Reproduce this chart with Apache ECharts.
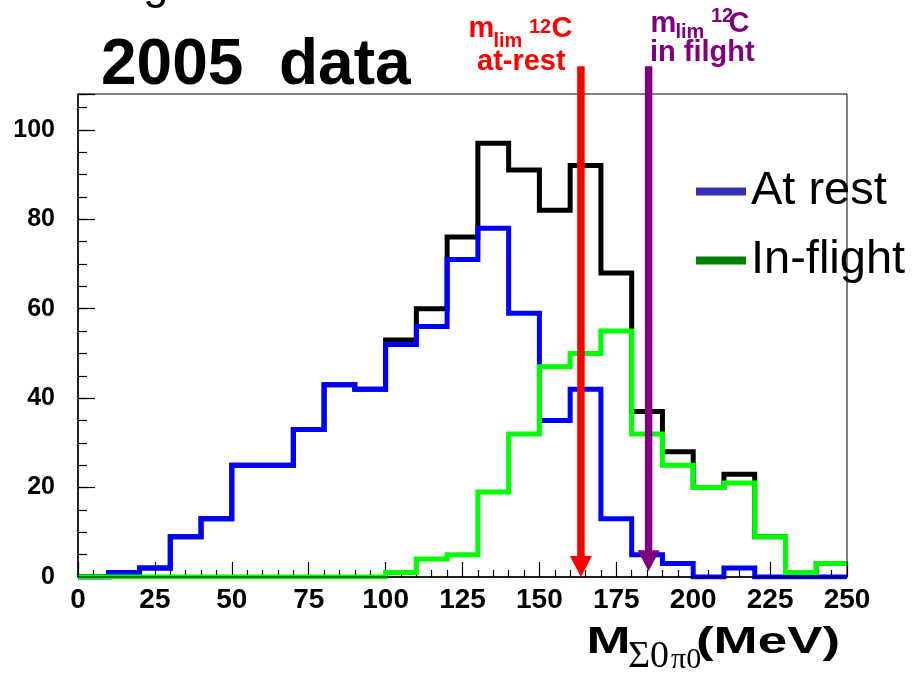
<!DOCTYPE html>
<html>
<head>
<meta charset="utf-8">
<script src="https://cdn.jsdelivr.net/npm/echarts@6/dist/echarts.min.js"></script>
<style>
  html, body { margin: 0; padding: 0; background: #ffffff; }
  #chart { width: 913px; height: 675px; }
</style>
</head>
<body>
<div id="chart"></div>
<script>
// Lower edges of the 10 MeV mass bins
const binEdges = [0, 10, 20, 30, 40, 50, 60, 70, 80, 90, 100, 110, 120,
                  130, 140, 150, 160, 170, 180, 190, 200, 210, 220, 230, 240];
const binUpper = 250;

// Counts per bin
const atRest   = [0, 1, 2, 9, 13, 25, 25, 33, 43, 42, 52, 56, 71,
                  78, 59, 35, 42, 13, 5, 3, 0, 2, 0, 0, 0];
const inFlight = [0, 0, 0, 0, 0, 0, 0, 0, 0, 0, 1, 4, 5,
                  19, 32, 47, 50, 55, 32, 25, 20, 21, 9, 1, 3];
const total    = [0, 1, 2, 9, 13, 25, 25, 33, 43, 42, 53, 60, 76,
                  97, 91, 82, 92, 68, 37, 28, 20, 23, 9, 1, 3];

// Kinematic limits for 12C (MeV), arrow tip and tail heights (counts)
const limitMass = [163.5, 185.5];
const limitTip  = [0, 1.3];
const limitTail = [114.2, 114.2];

// Axis ticks
const xTicks = [0, 25, 50, 75, 100, 125, 150, 175, 200, 225, 250];
const yTicks = [0, 20, 40, 60, 80, 100];

const SANS = "'Liberation Sans', Arial, Helvetica, sans-serif";
const SERIF = "'Liberation Serif', 'Times New Roman', serif";

// Histogram outline: one point per bin edge, closed at the upper edge
function steps(counts) {
  const pts = binEdges.map((x, i) => [x, counts[i]]);
  pts.push([binUpper, counts[counts.length - 1]]);
  return pts;
}

function histSeries(name, counts, color, z) {
  return {
    name: name,
    type: 'line',
    step: 'end',
    data: steps(counts),
    showSymbol: false,
    symbol: 'none',
    silent: true,
    z: z,
    itemStyle: { color: color },
    lineStyle: { color: color, width: 5, join: 'miter', cap: 'butt' }
  };
}

const arrowColors = ['#ff0000', '#800080'];

function renderArrow(params, api) {
  const tip = api.coord([api.value(0), api.value(1)]);
  const tail = api.coord([api.value(0), api.value(2)]);
  const color = arrowColors[params.dataIndex];
  const headH = 21, headW = 22, shaft = 7.5;
  return {
    type: 'group',
    children: [
      {
        type: 'rect',
        shape: { x: tip[0] - shaft / 2, y: tail[1], width: shaft, height: tip[1] - headH - tail[1] + 1 },
        style: { fill: color }
      },
      {
        type: 'polygon',
        shape: { points: [[tip[0] - headW / 2, tip[1] - headH], [tip[0] + headW / 2, tip[1] - headH], [tip[0], tip[1]]] },
        style: { fill: color }
      }
    ]
  };
}

function txt(text, x, y, font, fill, extra) {
  return Object.assign({
    type: 'text',
    x: x, y: y,
    silent: true,
    style: { text: text, x: 0, y: 0, font: font, fill: fill, align: 'left', verticalAlign: 'top' }
  }, extra || {});
}

const chart = echarts.init(document.getElementById('chart'), null, { renderer: 'canvas' });

chart.setOption({
  animation: false,
  backgroundColor: '#ffffff',
  grid: {
    left: 78, right: 66, top: 94, bottom: 98,
    show: true, borderColor: '#000000', borderWidth: 1,
    backgroundColor: 'transparent', z: 6
  },
  legend: {
    data: [
      { name: 'At rest', itemStyle: { color: '#3030b8' } },
      { name: 'In-flight', itemStyle: { color: '#008000' } }
    ],
    orient: 'vertical',
    left: 696, top: 168,
    padding: 0,
    itemGap: 22,
    itemWidth: 50, itemHeight: 8,
    icon: 'rect',
    itemStyle: { borderWidth: 0 },
    textStyle: { fontFamily: SANS, fontSize: 47, color: '#000000' },
    selectedMode: false,
    z: 1
  },
  xAxis: {
    type: 'value',
    min: xTicks[0], max: xTicks[xTicks.length - 1], interval: 25,
    axisLine: { show: true, onZero: false, lineStyle: { color: '#000000', width: 1.5 } },
    axisTick: { show: true, inside: true, length: 15, lineStyle: { color: '#000000', width: 1.2 } },
    minorTick: { show: true, splitNumber: 5, length: 7, lineStyle: { color: '#000000', width: 1.2 } },
    axisLabel: {
      margin: 9, color: '#000000', fontFamily: SANS, fontWeight: 'bold', fontSize: 28,
      formatter: v => (xTicks.indexOf(v) >= 0 ? String(v) : '')
    },
    splitLine: { show: false }
  },
  yAxis: [
    {
      type: 'value', position: 'left',
      min: 0, max: 108, interval: 20,
      axisLine: { show: true, onZero: false, lineStyle: { color: '#000000', width: 1.5 } },
      axisTick: { show: true, inside: true, length: 17, lineStyle: { color: '#000000', width: 1.2 } },
      axisLabel: {
        margin: 23, color: '#000000', fontFamily: SANS, fontWeight: 'bold', fontSize: 25,
        formatter: v => (yTicks.indexOf(v) >= 0 ? String(v) : '')
      },
      splitLine: { show: false }
    },
    {
      type: 'value', position: 'left', offset: 0,
      min: 0, max: 108, interval: 5,
      axisLine: { show: false },
      axisTick: { show: true, inside: true, length: 9, lineStyle: { color: '#000000', width: 1.2 } },
      axisLabel: { show: false },
      splitLine: { show: false }
    }
  ],
  series: [
    histSeries('Total', total, '#000000', 2),
    histSeries('At rest', atRest, '#0000ff', 3),
    histSeries('In-flight', inFlight, '#00ff00', 4),
    {
      name: 'Limits',
      type: 'custom',
      renderItem: renderArrow,
      data: limitMass.map((m, i) => [m, limitTip[i], limitTail[i]]),
      encode: { x: 0, y: 1 },
      clip: false,
      silent: true,
      z: 8
    }
  ],
  graphic: [
    // word ending above the frame, cut by the page edge
    txt('g', 143, -37.5, '46px ' + SANS, '#000000'),
    // dataset title
    txt('2005  data', 101, 34.6, 'bold 64px ' + SANS, '#000000'),
    // at-rest limit label
    txt('m', 468.5, 14.2, 'bold 29px ' + SANS, '#ff0000'),
    txt('lim', 493.5, 31.3, 'bold 20px ' + SANS, '#ff0000'),
    txt('12', 529, 17.3, 'bold 20px ' + SANS, '#ff0000'),
    txt('C', 551.5, 14.2, 'bold 29px ' + SANS, '#ff0000'),
    txt('at-rest', 477, 47.2, 'bold 29px ' + SANS, '#ff0000'),
    // in-flight limit label
    txt('m', 650.5, 9.2, 'bold 29px ' + SANS, '#800080'),
    txt('lim', 675.5, 22.3, 'bold 20px ' + SANS, '#800080'),
    txt('12', 711, 6.3, 'bold 20px ' + SANS, '#800080'),
    txt('C', 728.5, 9.2, 'bold 29px ' + SANS, '#800080'),
    txt('in filght', 650, 38.5, 'bold 29px ' + SANS, '#800080'),
    // x-axis title
    txt('M', 586.5, 625.5, 'bold 36px ' + SANS, '#000000', { scaleX: 1.47 }),
    txt('\u03A30', 628, 638.2, '38px ' + SERIF, '#000000'),
    txt('\u03C00', 671, 644.9, '30px ' + SERIF, '#000000'),
    txt('(MeV)', 696, 625.5, 'bold 36px ' + SANS, '#000000', { scaleX: 1.47 })
  ]
});
</script>
</body>
</html>
